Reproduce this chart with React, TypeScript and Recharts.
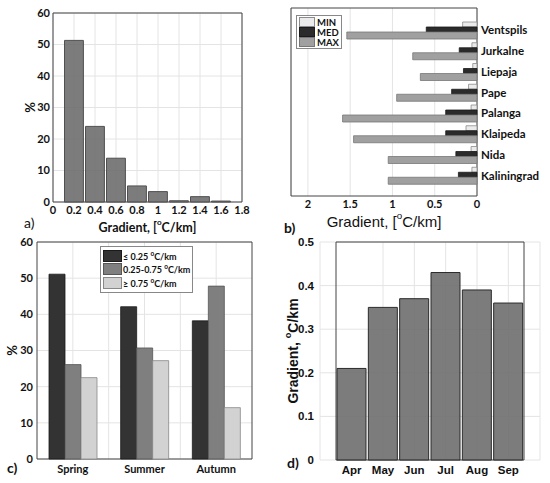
import React from 'react';
import { BarChart, Bar, XAxis, YAxis, CartesianGrid, ReferenceArea, Legend } from 'recharts';

const FONT = 'Lato, "Open Sans", sans-serif';
const ARIAL = '"Liberation Sans", Arial, sans-serif';

// a) histogram
const histBins = [0.2, 0.4, 0.6, 0.8, 1.0, 1.2, 1.4, 1.6];
const histPct = [51.3, 24.0, 13.9, 5.1, 3.3, 0.4, 1.7, 0.3];
const histTicks = [0, 0.2, 0.4, 0.6, 0.8, 1, 1.2, 1.4, 1.6, 1.8];
const pctTicks = [0, 10, 20, 30, 40, 50, 60];

// b) stations
const stations = ['Ventspils', 'Jurkalne', 'Liepaja', 'Pape', 'Palanga', 'Klaipeda', 'Nida', 'Kaliningrad'];
const gradMin = [0.17, 0.06, 0.05, 0.10, 0.07, 0.13, 0.07, 0.06];
const gradMed = [0.60, 0.21, 0.16, 0.30, 0.37, 0.37, 0.25, 0.22];
const gradMax = [1.54, 0.76, 0.67, 0.95, 1.59, 1.46, 1.05, 1.05];
const gradTicks = [0, 0.5, 1, 1.5, 2];

// c) seasons
const seasons = ['Spring', 'Summer', 'Autumn'];
const lowPct = [51.1, 42.1, 38.2];
const midPct = [26.1, 30.7, 47.8];
const highPct = [22.5, 27.2, 14.2];

// d) months
const months = ['Apr', 'May', 'Jun', 'Jul', 'Aug', 'Sep'];
const monthGrad = [0.21, 0.35, 0.37, 0.43, 0.39, 0.36];
const monthTicks = [0, 0.1, 0.2, 0.3, 0.4, 0.5];

const histData = histBins.map((x, i) => ({ x, pct: histPct[i] }));
const stationData = stations.map((name, i) => ({ name, min: gradMin[i], med: gradMed[i], max: gradMax[i] }));
const seasonData = seasons.map((name, i) => ({ name, low: lowPct[i], mid: midPct[i], high: highPct[i] }));
const monthData = months.map((month, i) => ({ month, grad: monthGrad[i] }));

const stationSeries = [
  { key: 'min', name: 'MIN', fill: '#ebebeb', stroke: '#8c8c8c', size: 5 },
  { key: 'med', name: 'MED', fill: '#2b2b2b', stroke: '#1a1a1a', size: 5 },
  { key: 'max', name: 'MAX', fill: '#a0a0a0', stroke: '#777777', size: 7 },
];
const seasonSeries = [
  { key: 'low', pre: '\u2264 0.25 ', fill: '#333333', stroke: '#1a1a1a' },
  { key: 'mid', pre: '0.25-0.75 ', fill: '#7f7f7f', stroke: '#555555' },
  { key: 'high', pre: '\u2265 0.75 ', fill: '#d2d2d2', stroke: '#888888' },
];

const tickStyle = { fill: '#111', fontSize: 11, fontWeight: 700, fontFamily: FONT };
const sup = (s: string) => <tspan baselineShift="super" fontSize="65%">{s}</tspan>;

const VTitle = (props: any) => {
  const { viewBox, shiftX = 0, size = 13, family = FONT, parts } = props;
  if (!viewBox) return null;
  const cx = viewBox.x + shiftX;
  const cy = viewBox.y + viewBox.height / 2;
  return (
    <text x={cx} y={cy} transform={`rotate(-90 ${cx} ${cy})`} textAnchor="middle" dominantBaseline="central"
      fontSize={size} fontWeight={700} fontFamily={family} fill="#111">{parts}</text>
  );
};

const HTitle = (props: any) => {
  const { viewBox, shiftY = 0, size = 13, weight = 700, family = FONT, parts } = props;
  if (!viewBox) return null;
  const cx = viewBox.x + viewBox.width / 2;
  const cy = viewBox.y + viewBox.height + shiftY;
  return (
    <text x={cx} y={cy} textAnchor="middle" dominantBaseline="central"
      fontSize={size} fontWeight={weight} fontFamily={family} fill="#111">{parts}</text>
  );
};

const StationLegend = () => (
  <div style={{ border: '1px solid #888', background: '#fff', padding: '1px 2px', fontFamily: FONT, fontWeight: 700, fontSize: 9.5, color: '#111' }}>
    {stationSeries.map(s => (
      <div key={s.key} style={{ display: 'flex', alignItems: 'center', height: 10 }}>
        <span style={{ width: 14, height: 8, background: s.fill, border: `1px solid ${s.stroke}`, marginRight: 2 }} />
        <span>{s.name}</span>
      </div>
    ))}
  </div>
);

const SeasonLegend = () => (
  <div style={{ border: '1px solid #888', background: '#fff', padding: '2px 2px', fontFamily: FONT, fontWeight: 700, fontSize: 9, color: '#111', whiteSpace: 'nowrap' }}>
    {seasonSeries.map(s => (
      <div key={s.key} style={{ display: 'flex', alignItems: 'center', height: 13.5 }}>
        <span style={{ width: 17, height: 10, background: s.fill, border: `1px solid ${s.stroke}`, marginRight: 1 }} />
        <span>{s.pre}<sup style={{ fontSize: 6.5 }}>o</sup>C/km</span>
      </div>
    ))}
  </div>
);

const letter = (text: string, left: number, top: number, bold: boolean) => (
  <div style={{ position: 'absolute', left, top, fontFamily: FONT, fontSize: 14, fontWeight: bold ? 700 : 400, color: '#111' }}>{text}</div>
);

// frame around the plot area, drawn as a grid with lines only on the plot edges
const frameH = ({ offset }: any) => [offset.top, offset.top + offset.height];
const frameV = ({ offset }: any) => [offset.left, offset.left + offset.width];

const App: React.FC = () => {
  return (
    <div style={{ position: 'absolute', left: 0, top: 0, width: 550, height: 483, background: '#fff', overflow: 'hidden' }}>
      {/* a) */}
      <div style={{ position: 'absolute', left: 0, top: 0 }}>
        <BarChart width={275} height={235} data={histData} margin={{ top: 13, right: 33, bottom: 13, left: 0 }}>
          <CartesianGrid stroke="#e4e4e4" />
          <XAxis dataKey="x" type="number" domain={[0, 1.8]} ticks={histTicks} height={20} axisLine={false}
            tickLine={false} tickSize={0} tickMargin={4} tick={tickStyle} interval={0}
            label={<HTitle shiftY={5} size={12.5} parts={<>Gradient,  [{sup('o')}C/km]</>} />} />
          <YAxis type="number" domain={[0, 60]} ticks={pctTicks} width={53} axisLine={false}
            tickLine={false} tickSize={0} tickMargin={3} tick={tickStyle}
            label={<VTitle shiftX={30} size={13} parts="%" />} />
          <Bar dataKey="pct" barSize={21} fill="#6a6a6a" fillOpacity={0.88} stroke="#505050" isAnimationActive={false} />
          <ReferenceArea x1={0} x2={1.8} y1={0} y2={60} fill="none" stroke="#444" strokeWidth={1} />
        </BarChart>
      </div>

      {/* b) */}
      <div style={{ position: 'absolute', left: 275, top: 0 }}>
        <BarChart layout="vertical" width={275} height={235} data={stationData}
          margin={{ top: 8, right: 0, bottom: 19, left: 16 }} barGap={0} barCategoryGap={0}>
          <CartesianGrid horizontal={false} stroke="#e4e4e4" />
          <XAxis type="number" domain={[0, 2.2]} reversed ticks={gradTicks} height={20} axisLine={false}
            tickLine={false} tickSize={0} tickMargin={4} tick={tickStyle} interval={0}
            label={<HTitle shiftY={5} size={15} weight={400} family={ARIAL} parts={<>Gradient, [{sup('o')}C/km]</>} />} />
          <YAxis type="category" dataKey="name" orientation="right" width={73} padding={{ top: 12, bottom: 10 }}
            axisLine={false} tickLine={false} tickSize={0} tickMargin={4} interval={0}
            tick={{ ...tickStyle, fontSize: 11.5 }} />
          {stationSeries.map(s => (
            <Bar key={s.key} dataKey={s.key} name={s.name} barSize={s.size} fill={s.fill} stroke={s.stroke}
              strokeWidth={0.8} isAnimationActive={false} />
          ))}
          <CartesianGrid stroke="#444" fill="none" horizontalCoordinatesGenerator={frameH} verticalCoordinatesGenerator={frameV} />
          <Legend layout="horizontal" verticalAlign="middle" align="center" content={StationLegend}
            wrapperStyle={{ left: 21, top: 15, width: 'auto', height: 'auto' }} />
        </BarChart>
      </div>

      {/* c) */}
      <div style={{ position: 'absolute', left: 0, top: 230 }}>
        <BarChart width={275} height={253} data={seasonData} margin={{ top: 12, right: 23, bottom: 4, left: 0 }}
          barGap={0} barCategoryGap="16%">
          <CartesianGrid stroke="#e4e4e4"
            verticalCoordinatesGenerator={({ offset }: any) => [1, 2, 3, 4, 5].map(k => offset.left + (offset.width * k) / 6)} />
          <XAxis dataKey="name" height={20} axisLine={false} tickLine={false} tickSize={0} tickMargin={6} tick={tickStyle} />
          <YAxis type="number" domain={[0, 60]} ticks={pctTicks} width={37} axisLine={false}
            tickLine={false} tickSize={0} tickMargin={4} tick={tickStyle}
            label={<VTitle shiftX={12} size={13} parts="%" />} />
          {seasonSeries.map(s => (
            <Bar key={s.key} dataKey={s.key} barSize={16} fill={s.fill} stroke={s.stroke} strokeWidth={0.8} isAnimationActive={false} />
          ))}
          <ReferenceArea y1={0} y2={60} fill="none" stroke="#444" strokeWidth={1} />
          <Legend layout="horizontal" verticalAlign="middle" align="center" content={SeasonLegend}
            wrapperStyle={{ left: 100, top: 16, width: 'auto', height: 'auto' }} />
        </BarChart>
      </div>

      {/* d) */}
      <div style={{ position: 'absolute', left: 275, top: 230 }}>
        <BarChart width={275} height={253} data={monthData} margin={{ top: 12, right: 10, bottom: 3, left: 0 }}
          barCategoryGap={1}>
          <CartesianGrid stroke="#e4e4e4" />
          <XAxis dataKey="month" padding={{ left: 16, right: 16 }} height={20} axisLine={false}
            tickLine={false} tickSize={0} tickMargin={6} tick={{ ...tickStyle, fontSize: 11.5, fontFamily: ARIAL }} />
          <YAxis type="number" domain={[0, 0.5]} ticks={monthTicks} width={45} axisLine={false}
            tickLine={false} tickSize={0} tickMargin={6} tick={{ ...tickStyle, fontSize: 11.5, fontFamily: ARIAL }}
            tickFormatter={(v: number) => (v === 0 ? '0' : v.toFixed(1))}
            label={<VTitle shiftX={18} size={14} family={ARIAL} parts={<>Gradient, {sup('o')}C/km</>} />} />
          <Bar dataKey="grad" fill="#6e6e6e" fillOpacity={0.9} stroke="#2b2b2b" strokeWidth={1} isAnimationActive={false} />
          <ReferenceArea y1={0} y2={0.5} fill="none" stroke="#444" strokeWidth={1} />
        </BarChart>
      </div>

      {letter('a)', 24, 214, false)}
      {letter('b)', 284, 219, true)}
      {letter('c)', 7, 459, true)}
      {letter('d)', 287, 454, true)}
    </div>
  );
};

export default App;
